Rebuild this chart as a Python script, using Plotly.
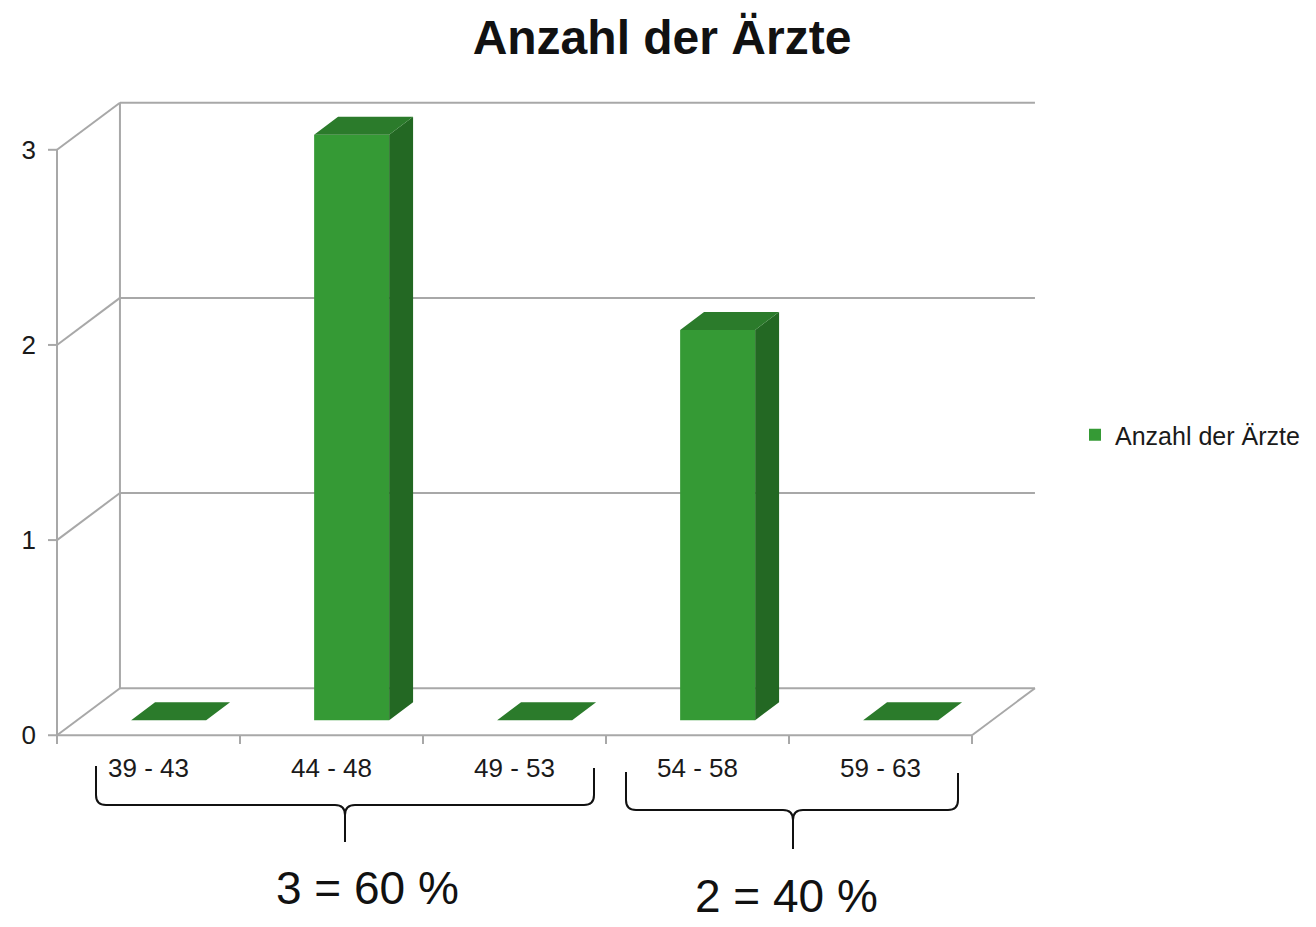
import plotly.graph_objects as go

# ---------------- data ----------------
categories = ["39 - 43", "44 - 48", "49 - 53", "54 - 58", "59 - 63"]
values = [0, 3, 0, 2, 0]
y_ticks = [0, 1, 2, 3]
series_name = "Anzahl der Ärzte"
chart_title = "Anzahl der Ärzte"
group_labels = ["3 = 60 %", "2 = 40 %"]

# ---------------- geometry / style ----------------
FONT = "Liberation Sans, Arial, sans-serif"
DX, DY = 0.344, 0.241      # depth of 3D box in axis units
D0, D1 = 0.32, 0.70        # bar front / back depth fraction
BW = 0.41                  # bar width
FRONT, TOP, SIDE = "#359a35", "#2b7b2b", "#236823"
GRID = "#a8a8a8"

n = len(categories)
xs = list(range(n))
ymax = max(y_ticks)

W, H = 1316, 927
L, R, T, B = 45, 0, 101, 182
PPU_X = 183.0
x_left = -0.5 - 12 / PPU_X
x_range = [x_left, x_left + (W - L - R) / PPU_X]
y_range = [-0.05, 3.25]


def px2paper(px, py):
    return (px - L) / (W - L - R), ((H - B) - py) / (H - T - B)


fig = go.Figure()

# ---------------- 3D box (walls, gridlines, floor) ----------------
shapes = []


def seg(x0, y0, x1, y1, color=GRID, width=2, layer="below"):
    shapes.append(dict(type="line", xref="x", yref="y", x0=x0, y0=y0, x1=x1, y1=y1,
                       line=dict(color=color, width=width), layer=layer))


for v in y_ticks:
    seg(-0.5, v, -0.5 + DX, v + DY)                    # side-wall diagonal
    seg(-0.5 + DX, v + DY, n - 0.5 + DX, v + DY)       # back-wall gridline
    seg(-0.5 - 9 / PPU_X, v, -0.5, v)                  # y tick mark
seg(-0.5, 0, -0.5, ymax)                               # front vertical edge
seg(-0.5 + DX, DY, -0.5 + DX, ymax + DY)               # back vertical edge
seg(-0.5, 0, n - 0.5, 0)                               # floor front edge
seg(n - 0.5, 0, n - 0.5 + DX, DY)                      # floor right edge
for k in range(n + 1):
    seg(k - 0.5, 0, k - 0.5, -0.045)                   # x tick marks

# ---------------- bars ----------------
fig.add_trace(go.Bar(
    x=[i + D0 * DX for i in xs], y=values, base=D0 * DY, width=BW,
    marker=dict(color=FRONT, line=dict(width=0)), name=series_name,
    showlegend=True,
))

ddx, ddy = (D1 - D0) * DX, (D1 - D0) * DY
top_x, top_y, side_x, side_y = [], [], [], []
for i, v in zip(xs, values):
    xl = i + D0 * DX - BW / 2
    xr = i + D0 * DX + BW / 2
    yb = D0 * DY
    yt = v + D0 * DY
    top_x += [xl, xr, xr + ddx, xl + ddx, xl, None]
    top_y += [yt, yt, yt + ddy, yt + ddy, yt, None]
    if v > 0:
        side_x += [xr, xr + ddx, xr + ddx, xr, xr, None]
        side_y += [yb, yb + ddy, yt + ddy, yt, yb, None]

fig.add_trace(go.Scatter(x=side_x, y=side_y, mode="lines", fill="toself",
                         fillcolor=SIDE, line=dict(width=0, color=SIDE),
                         showlegend=False, hoverinfo="skip"))
fig.add_trace(go.Scatter(x=top_x, y=top_y, mode="lines", fill="toself",
                         fillcolor=TOP, line=dict(width=0, color=TOP),
                         showlegend=False, hoverinfo="skip"))

# ---------------- braces ----------------


def brace(xl, xr, xm, ytl, ytr, yh, ytip, r=10):
    pts = [("M", xl, ytl), ("L", xl, yh - r), ("Q", xl, yh, xl + r, yh),
           ("L", xm - r, yh), ("Q", xm, yh, xm, yh + r), ("L", xm, ytip),
           ("M", xm, yh + r), ("Q", xm, yh, xm + r, yh), ("L", xr - r, yh),
           ("Q", xr, yh, xr, yh - r), ("L", xr, ytr)]
    out = []
    for p in pts:
        cmd, coords = p[0], p[1:]
        cs = []
        for j in range(0, len(coords), 2):
            a, b = px2paper(coords[j], coords[j + 1])
            cs.append(f"{a:.5f},{b:.5f}")
        out.append(cmd + " " + " ".join(cs))
    return " ".join(out)


for path in [brace(96, 594, 345, 766, 768, 805, 842),
             brace(626, 958, 793, 772, 773, 810, 849)]:
    shapes.append(dict(type="path", xref="paper", yref="paper", path=path,
                       line=dict(color="#111111", width=2)))

annotations = []
for txt, (cx, cy) in zip(group_labels, [(367, 888), (787, 896)]):
    ax, ay = px2paper(cx, cy)
    annotations.append(dict(text=txt, x=ax, y=ay, xref="paper", yref="paper",
                            xanchor="center", yanchor="middle", showarrow=False,
                            borderpad=0,
                            font=dict(family=FONT, size=46, color="#111111")))

lx, ly = px2paper(1075, 435)

fig.update_layout(
    width=W, height=H,
    margin=dict(l=L, r=R, t=T, b=B),
    paper_bgcolor="white", plot_bgcolor="white",
    title=dict(text="<b>" + chart_title + "</b>", x=662 / W, y=1 - 37 / H,
               xref="container", yref="container", xanchor="center", yanchor="middle",
               font=dict(family=FONT, size=48, color="#111111")),
    xaxis=dict(range=x_range, tickvals=xs, ticktext=categories, ticks="",
               showgrid=False, zeroline=False, showline=False, fixedrange=True,
               ticklabelstandoff=5,
               tickfont=dict(family=FONT, size=26, color="#1a1a1a")),
    yaxis=dict(range=y_range, tickvals=y_ticks, ticks="", showgrid=False,
               zeroline=False, showline=False, fixedrange=True,
               ticklabelstandoff=8,
               tickfont=dict(family=FONT, size=26, color="#1a1a1a")),
    legend=dict(x=lx, y=ly, xanchor="left", yanchor="middle",
                bgcolor="rgba(0,0,0,0)", font=dict(family=FONT, size=25, color="#1a1a1a")),
    shapes=shapes, annotations=annotations, showlegend=True,
    font=dict(family=FONT),
)

fig.write_html("out.html", config={"displayModeBar": False},
               post_script="document.body.style.margin='0';document.body.style.overflow='hidden';")
